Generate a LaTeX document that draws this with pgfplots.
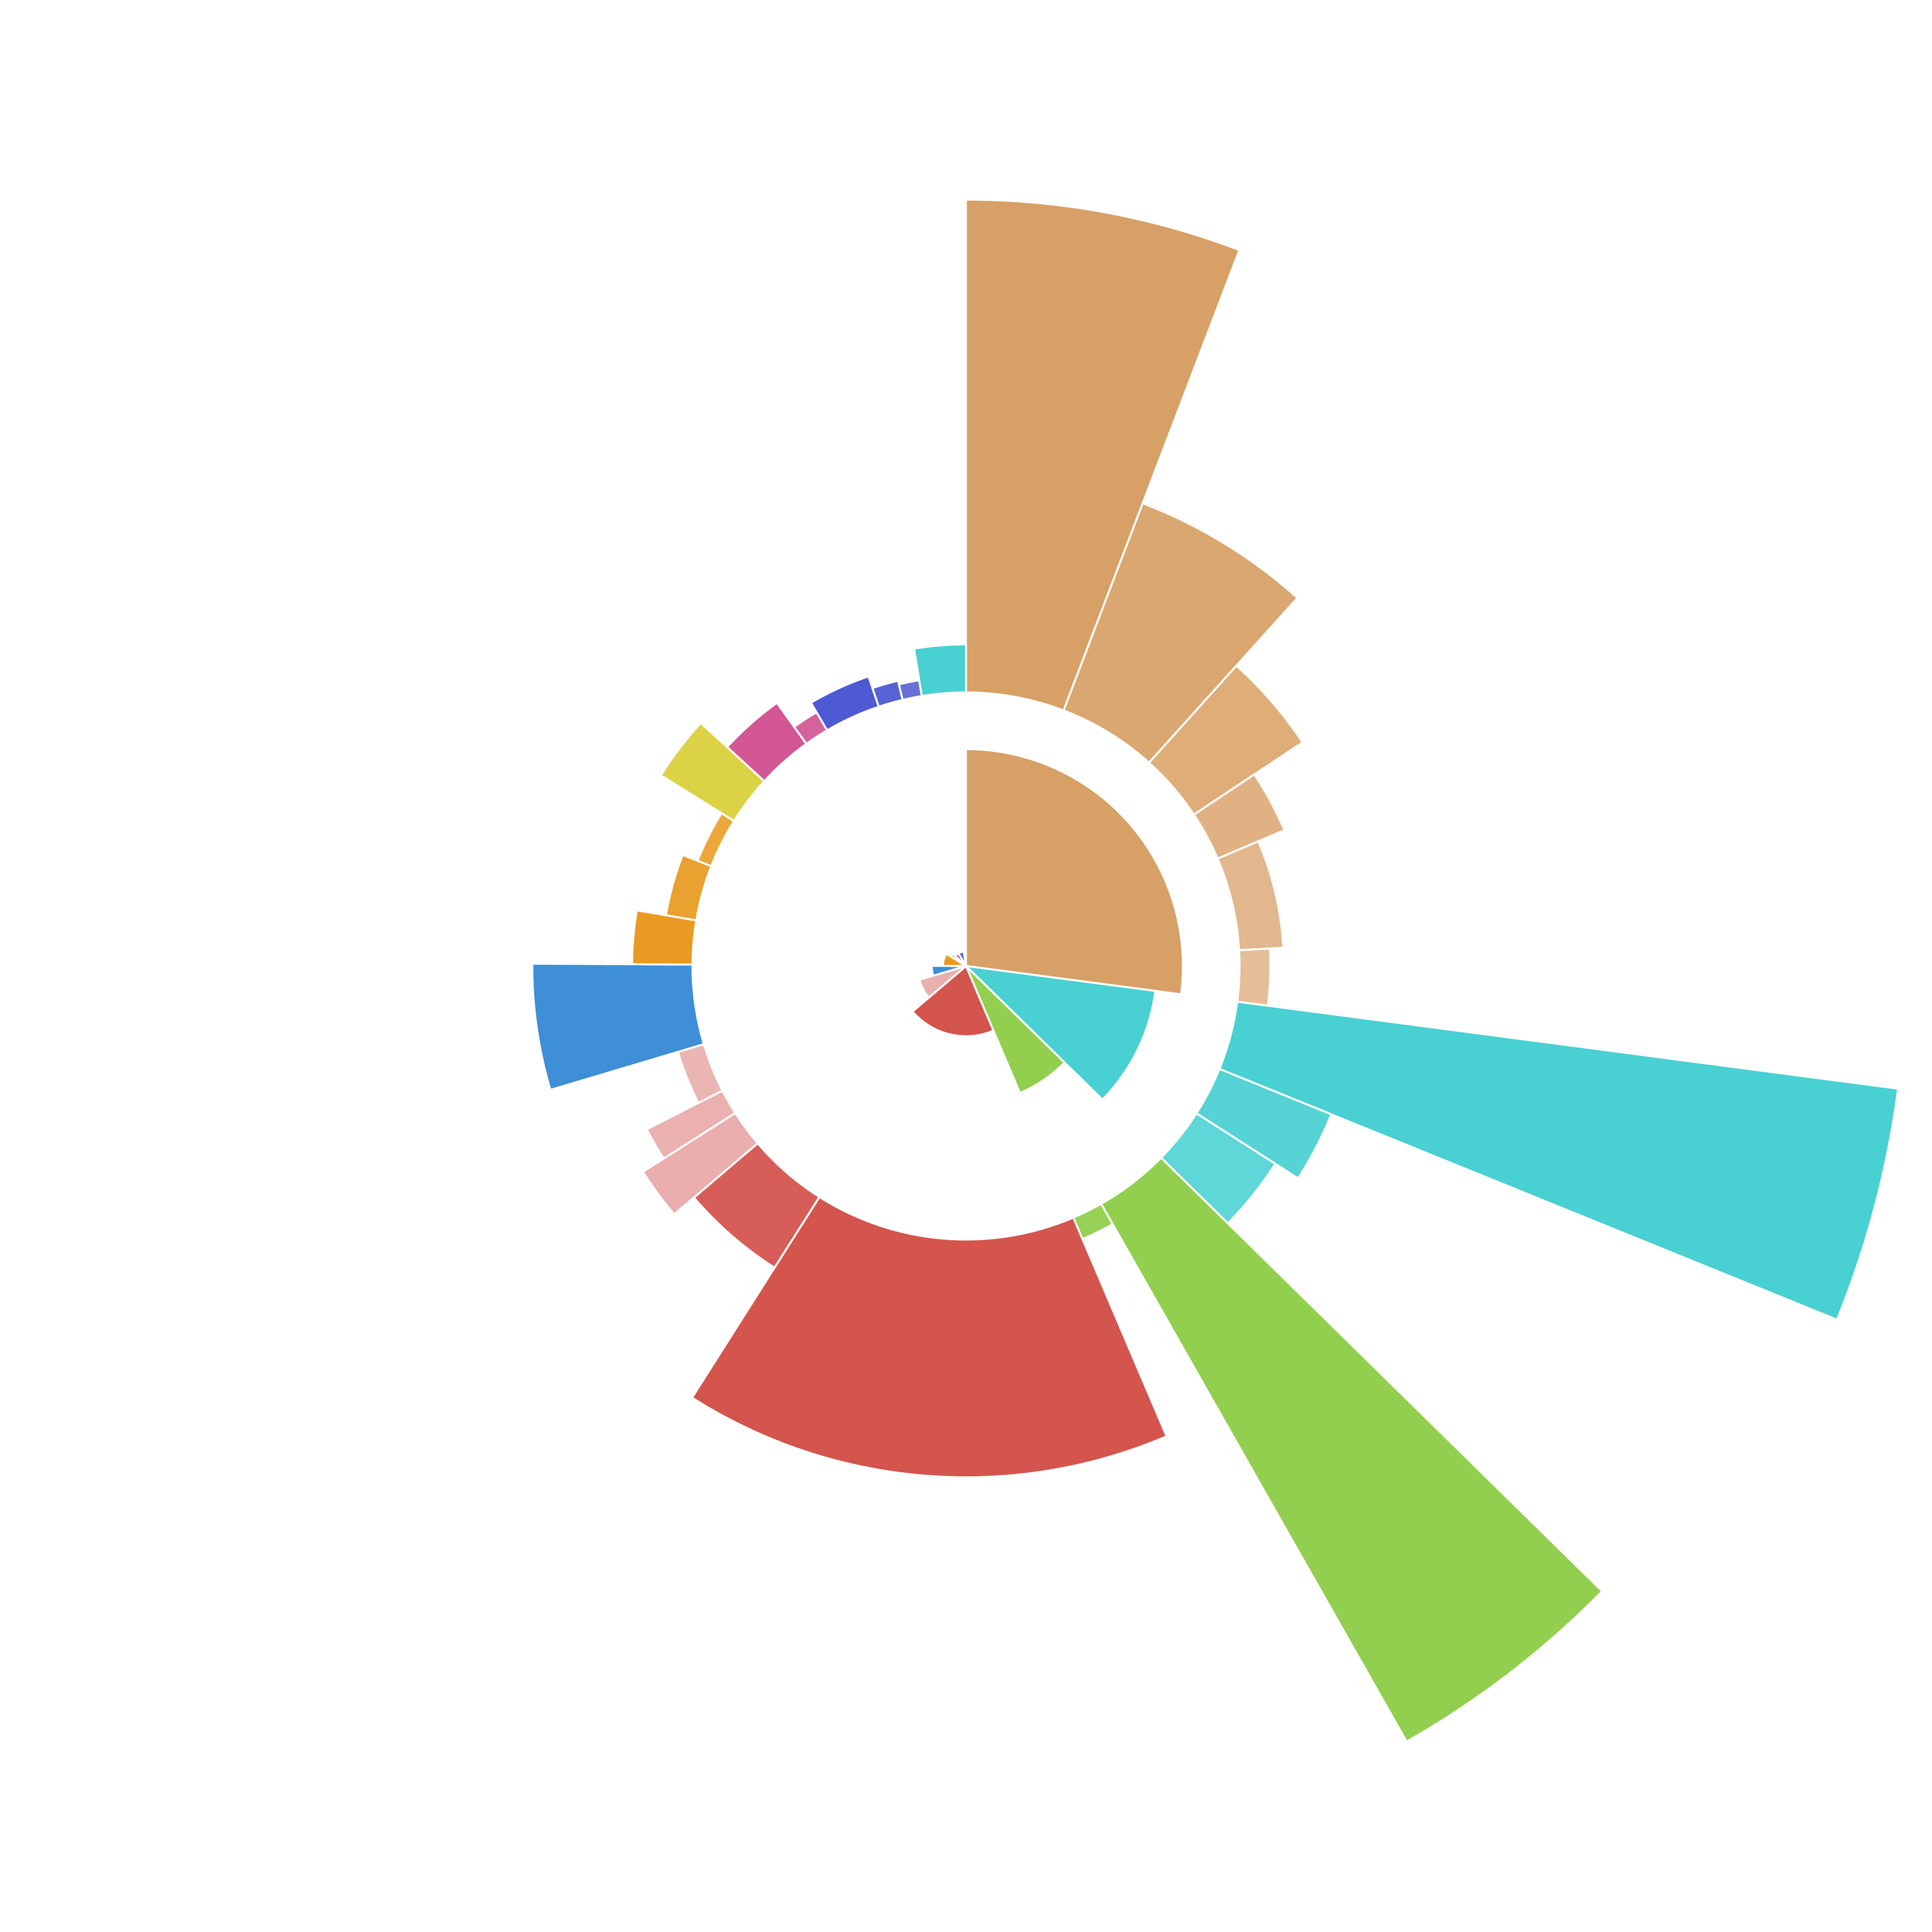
\documentclass[border=0pt]{standalone}
\usepackage{pgfplots}
\usepackage{pgfplotstable}
\pgfplotsset{compat=1.18}
\definecolor{tanA}{HTML}{D7A066}
\definecolor{tanB}{HTML}{DAA771}
\definecolor{tanC}{HTML}{DEAD78}
\definecolor{tanD}{HTML}{E0B283}
\definecolor{tanE}{HTML}{E2B78D}
\definecolor{tanF}{HTML}{E4BE97}
\definecolor{cyanA}{HTML}{48D0D2}
\definecolor{cyanB}{HTML}{55D3D5}
\definecolor{cyanC}{HTML}{5FD6D8}
\definecolor{greenA}{HTML}{93CF4F}
\definecolor{greenB}{HTML}{96D054}
\definecolor{redA}{HTML}{D4544E}
\definecolor{redB}{HTML}{D75E58}
\definecolor{pinkA}{HTML}{E9AEAD}
\definecolor{pinkB}{HTML}{EAB1B0}
\definecolor{pinkC}{HTML}{EBB5B4}
\definecolor{blueA}{HTML}{3E8ED8}
\definecolor{orangeA}{HTML}{E89A22}
\definecolor{orangeB}{HTML}{E9A22F}
\definecolor{orangeC}{HTML}{EBA73C}
\definecolor{yellowA}{HTML}{DCD245}
\definecolor{magA}{HTML}{D25794}
\definecolor{magB}{HTML}{D6629C}
\definecolor{bpA}{HTML}{4E5AD3}
\definecolor{bpB}{HTML}{5762D5}
\definecolor{bpC}{HTML}{6670D8}

% px py : position (centre); a1 a2 : start/end angle; rin rout : radii (px of a 1568 canvas)
\pgfplotstableread{
px py a1 a2 rin rout col
0 0 90 -7.5 0.01 176 tanA
0 0 -7.5 -44.4 0.01 155 cyanA
0 0 -44.4 -67 0.01 112 greenA
0 0 -67 -139.6 0.01 57 redA
0 0 -139.6 -163.5 0.01 39.5 pinkA
0 0 -163.5 -180.3 0.01 27.8 blueA
0 0 -180.3 -212.1 0.01 18.8 orangeA
0 0 -212.1 -222.5 0.01 14.9 yellowA
0 0 -222.5 -239.5 0.01 12.1 magA
0 0 -239.5 -260.7 0.01 11.9 bpA
0 0 -260.7 -270 0.01 4 cyanA
}\innerring

\pgfplotstableread{
px py a1 a2 rin rout col
0 0 90 69.1 222 622 tanA
0 0 69.1 48.0 222 402 tanB
0 0 48.0 33.6 222 328 tanC
0 0 33.6 23.1 222 281 tanD
0 0 23.1 3.3 222 258 tanE
0 0 3.3 -7.5 222 247 tanF
0 0 -7.5 -22.1 222 763 cyanA
0 0 -22.1 -32.6 222 320 cyanB
0 0 -32.6 -44.5 222 298 cyanC
0 0 -44.5 -60.4 222 724 greenA
0 0 -60.4 -66.9 222 241 greenB
0 0 -66.9 -122.4 222 415 redA
0 0 -122.4 -139.6 222 290 redB
0 0 -139.6 -147.5 222 311 pinkA
0 0 -147.5 -152.9 222 291 pinkB
0 0 -152.9 -163.4 222 244 pinkC
0 0 -163.4 -180.3 222 352 blueA
0 0 -180.3 -189.6 222 271 orangeA
0 0 -189.6 -201.4 222 247 orangeB
0 0 -201.4 -212.0 222 234 orangeC
0 0 -212.0 -222.5 222 292 yellowA
0 0 -222.5 -234.3 222 263 magA
0 0 -234.3 -239.5 222 239 magB
0 0 -239.5 -251.4 222 248 bpA
0 0 -251.4 -256.6 222 238 bpB
0 0 -256.6 -260.7 222 235 bpC
0 0 -260.7 -270 222 261 cyanA
}\outerring

\pgfplotsset{
  wedges/.style={
    scatter, only marks, mark=none,
    point meta=explicit symbolic,
    visualization depends on={\thisrow{a1}\as\aone},
    visualization depends on={\thisrow{a2}\as\atwo},
    visualization depends on={\thisrow{rin}\as\rin},
    visualization depends on={\thisrow{rout}\as\rout},
    scatter/@pre marker code/.code={%
      \pgfmathsetmacro\Ri{\rin*0.25}%
      \pgfmathsetmacro\Ro{\rout*0.25}%
      \edef\wcol{\pgfplotspointmeta}%
      \filldraw[fill=\wcol, draw=white, line width=0.4pt, line join=round]
        (\aone:\Ri pt) -- (\aone:\Ro pt)
        arc[start angle=\aone, end angle=\atwo, radius=\Ro pt]
        -- (\atwo:\Ri pt)
        arc[start angle=\atwo, end angle=\aone, radius=\Ri pt] -- cycle;
    },
    scatter/@post marker code/.code={},
  }
}

\begin{document}
\begin{tikzpicture}
\begin{axis}[
  x=0.25pt, y=0.25pt,
  xmin=-784, xmax=784, ymin=-784, ymax=784,
  ticks=none, axis line style={draw=none}, clip=false,
]
\addplot[wedges] table[x=px, y=py, meta=col] {\innerring};
\addplot[wedges] table[x=px, y=py, meta=col] {\outerring};
\end{axis}
\end{tikzpicture}
\end{document}
